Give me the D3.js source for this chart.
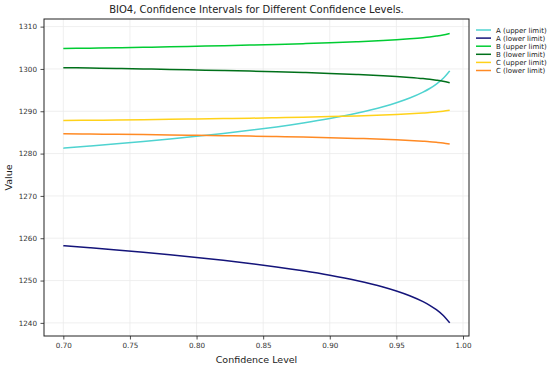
<!DOCTYPE html>
<html><head><meta charset="utf-8">
<script src="https://cdn.jsdelivr.net/npm/d3@7"></script>
<style>body{margin:0;background:#fff;} text{font-family:"DejaVu Sans",sans-serif;}</style>
</head><body><svg id="c" width="550" height="368"></svg>
<script>
const levels = [0.70,0.72,0.74,0.76,0.78,0.80,0.82,0.84,0.86,0.88,0.90,0.92,0.94,0.95,0.96,0.97,0.975,0.98,0.985,0.99];
const aUpper = [1281.29,1281.79,1282.31,1282.87,1283.46,1284.09,1284.76,1285.50,1286.31,1287.23,1288.28,1289.52,1291.05,1292.00,1293.12,1294.52,1295.38,1296.43,1297.74,1299.54];
const aLower = [1258.25,1257.75,1257.23,1256.67,1256.08,1255.45,1254.78,1254.04,1253.23,1252.31,1251.26,1250.02,1248.49,1247.54,1246.42,1245.02,1244.16,1243.11,1241.80,1240.00];
const bUpper = [1304.81,1304.91,1305.01,1305.12,1305.23,1305.36,1305.49,1305.63,1305.79,1305.97,1306.17,1306.42,1306.72,1306.90,1307.12,1307.39,1307.56,1307.77,1308.02,1308.37];
const bLower = [1300.31,1300.21,1300.11,1300.00,1299.89,1299.76,1299.63,1299.49,1299.33,1299.15,1298.95,1298.70,1298.40,1298.22,1298.00,1297.73,1297.56,1297.35,1297.10,1296.75];
const cUpper = [1287.80,1287.87,1287.94,1288.01,1288.09,1288.18,1288.27,1288.36,1288.48,1288.60,1288.74,1288.91,1289.11,1289.24,1289.39,1289.58,1289.69,1289.84,1290.01,1290.25];
const cLower = [1284.70,1284.63,1284.56,1284.49,1284.41,1284.32,1284.23,1284.14,1284.02,1283.90,1283.76,1283.59,1283.39,1283.26,1283.11,1282.92,1282.81,1282.66,1282.49,1282.25];
const seriesNames = ["A (upper limit)","A (lower limit)","B (upper limit)","B (lower limit)","C (upper limit)","C (lower limit)"];
const seriesColors = ["#4fd3d0","#14147a","#00cc33","#00701a","#ffd21a","#ff8a24"];
const xTicks = [0.70,0.75,0.80,0.85,0.90,0.95,1.00];
const yTicks = [1240,1250,1260,1270,1280,1290,1300,1310];
const seriesValues = [aUpper,aLower,bUpper,bLower,cUpper,cLower];

const svg = d3.select("#c");
const L=44, R=469, T=19, B=336;
const x = d3.scaleLinear().domain([0.6855,1.0045]).range([L,R]);
const y = d3.scaleLinear().domain([1236.9,1311.8]).range([B,T]);

const g = svg.append("g");
g.selectAll(".gx").data(xTicks).join("line").attr("x1",d=>x(d)).attr("x2",d=>x(d)).attr("y1",T).attr("y2",B)
 .attr("stroke","#ebebeb").attr("stroke-width",0.8);
g.selectAll(".gy").data(yTicks).join("line").attr("y1",d=>y(d)).attr("y2",d=>y(d)).attr("x1",L).attr("x2",R)
 .attr("stroke","#ebebeb").attr("stroke-width",0.8);

const line = d3.line().x((d,i)=>x(levels[i])).y(d=>y(d)).curve(d3.curveMonotoneX);
seriesValues.forEach((vals,i)=>{
  g.append("path").attr("d",line(vals)).attr("fill","none").attr("stroke",seriesColors[i]).attr("stroke-width",1.5);
});

g.append("rect").attr("x",L).attr("y",T).attr("width",R-L).attr("height",B-T).attr("fill","none").attr("stroke","#222").attr("stroke-width",1);

const xAxis = d3.axisBottom(x).tickValues(xTicks).tickFormat(d3.format(".2f")).tickSize(3.5).tickPadding(3.5);
const xa = svg.append("g").attr("transform",`translate(0,${B})`).call(xAxis);
const yAxis = d3.axisLeft(y).tickValues(yTicks).tickFormat(d3.format("d")).tickSize(3.5).tickPadding(3.5);
const ya = svg.append("g").attr("transform",`translate(${L},0)`).call(yAxis);
[xa,ya].forEach(a=>{
  a.select(".domain").remove();
  a.selectAll("line").attr("stroke","#222").attr("stroke-width",0.8);
  a.selectAll("text").attr("font-size",7.2).attr("fill","#333").attr("font-family","DejaVu Sans");
});

svg.append("text").attr("x",(L+R)/2).attr("y",13).attr("text-anchor","middle").attr("font-size",10).attr("fill","#222")
 .text("BIO4, Confidence Intervals for Different Confidence Levels.");
svg.append("text").attr("x",(L+R)/2).attr("y",363).attr("text-anchor","middle").attr("font-size",9.5).attr("fill","#222").text("Confidence Level");
svg.append("text").attr("transform",`translate(12,${(T+B)/2}) rotate(-90)`).attr("text-anchor","middle").attr("font-size",9.5).attr("fill","#222").text("Value");

const lg = svg.append("g");
seriesNames.forEach((n,i)=>{
  const yy = 30 + i*8.1;
  lg.append("line").attr("x1",476).attr("x2",491).attr("y1",yy).attr("y2",yy).attr("stroke",seriesColors[i]).attr("stroke-width",1.5);
  lg.append("text").attr("x",496).attr("y",yy+2.5).attr("font-size",7).attr("fill","#222").text(n);
});
</script></body></html>
